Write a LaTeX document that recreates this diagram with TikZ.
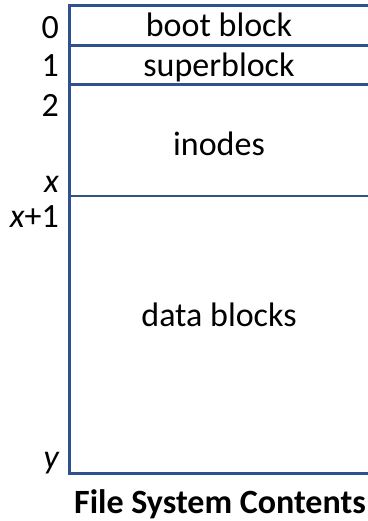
\documentclass[tikz,border=0pt]{standalone}
\usepackage{fontspec}
\setmainfont{Carlito}
\definecolor{fsblue}{RGB}{47,82,143}
\begin{document}
\begin{tikzpicture}[x=1pt,y=-1pt,
  rule/.style={draw=fsblue,line width=2.6pt},
  idx/.style={anchor=base east,inner sep=0pt,font=\fontsize{34}{40}\selectfont},
  region/.style={anchor=base,inner sep=0pt,font=\fontsize{34}{40}\selectfont},
  caption/.style={anchor=base,inner sep=0pt,font=\fontsize{34}{40}\selectfont\bfseries}]
\useasboundingbox (0,0) rectangle (367,521);
% block boundaries
\coordinate (top) at (69.5,5.7);
\coordinate (bot) at (69.5,473.3);
\draw[rule] (top) -- (bot);
\foreach \yy in {5.7,45.3,84.5,196,473.3}
  \draw[rule] (68.2,\yy) -- (370,\yy);
% block numbers
\node[idx] (n0) at (59,39) {0};
\node[idx] (n1) at (59,77) {1};
\node[idx] (n2) at (59,117) {2};
\node[idx] (nx) at (59,193) {\itshape x};
\node[idx] (nx1) at (59,227) {\itshape x\upshape+1};
\node[idx] (ny) at (59,468) {\itshape y};
% region names
\node[region] (boot) at (219,37) {boot block};
\node[region] (super) at (219,77) {superblock};
\node[region] (inodes) at (219,156) {inodes};
\node[region] (data) at (219,326) {data blocks};
\node[caption] (title) at (220,513) {File System Contents};
\end{tikzpicture}
\end{document}
